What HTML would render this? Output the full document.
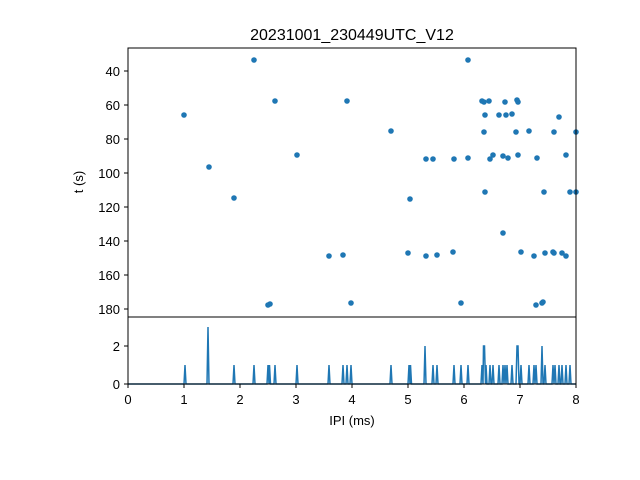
<!DOCTYPE html>
<html><head><style>body{margin:0;background:#fff}svg{display:block}</style></head><body>
<svg width="640" height="480" xmlns="http://www.w3.org/2000/svg" font-family="Liberation Sans, DejaVu Sans, sans-serif">
<rect width="640" height="480" fill="#fff"/>
<text x="352" y="40" font-size="16" text-anchor="middle">20231001_230449UTC_V12</text>
<g fill="#1f77b4" id="pts"></g>
<g fill="#1f77b4">
<circle cx="184" cy="115" r="2.8"/><circle cx="209" cy="167" r="2.8"/><circle cx="234" cy="198" r="2.8"/><circle cx="254" cy="60" r="2.8"/><circle cx="270" cy="304" r="2.8"/><circle cx="268" cy="305" r="2.8"/><circle cx="275" cy="101" r="2.8"/><circle cx="297" cy="155" r="2.8"/><circle cx="329" cy="256" r="2.8"/><circle cx="343" cy="255" r="2.8"/><circle cx="347" cy="101" r="2.8"/><circle cx="351" cy="303" r="2.8"/><circle cx="391" cy="131" r="2.8"/><circle cx="410" cy="199" r="2.8"/><circle cx="408" cy="253" r="2.8"/><circle cx="426" cy="159" r="2.8"/><circle cx="426" cy="256" r="2.8"/><circle cx="433" cy="159" r="2.8"/><circle cx="437" cy="255" r="2.8"/><circle cx="454" cy="159" r="2.8"/><circle cx="453" cy="252" r="2.8"/><circle cx="461" cy="303" r="2.8"/><circle cx="468" cy="158" r="2.8"/><circle cx="468" cy="60" r="2.8"/><circle cx="482" cy="101" r="2.8"/><circle cx="484" cy="102" r="2.8"/><circle cx="485" cy="115" r="2.8"/><circle cx="484" cy="132" r="2.8"/><circle cx="485" cy="192" r="2.8"/><circle cx="489" cy="101" r="2.8"/><circle cx="490" cy="159" r="2.8"/><circle cx="493" cy="155" r="2.8"/><circle cx="499" cy="115" r="2.8"/><circle cx="503" cy="156" r="2.8"/><circle cx="503" cy="233" r="2.8"/><circle cx="505" cy="102" r="2.8"/><circle cx="506" cy="115" r="2.8"/><circle cx="508" cy="158" r="2.8"/><circle cx="512" cy="114" r="2.8"/><circle cx="516" cy="132" r="2.8"/><circle cx="517" cy="100" r="2.8"/><circle cx="518" cy="102" r="2.8"/><circle cx="518" cy="155" r="2.8"/><circle cx="521" cy="252" r="2.8"/><circle cx="529" cy="131" r="2.8"/><circle cx="534" cy="256" r="2.8"/><circle cx="537" cy="158" r="2.8"/><circle cx="536" cy="305" r="2.8"/><circle cx="542" cy="303" r="2.8"/><circle cx="543" cy="302" r="2.8"/><circle cx="544" cy="192" r="2.8"/><circle cx="545" cy="253" r="2.8"/><circle cx="553" cy="252" r="2.8"/><circle cx="554" cy="253" r="2.8"/><circle cx="554" cy="132" r="2.8"/><circle cx="559" cy="117" r="2.8"/><circle cx="562" cy="253" r="2.8"/><circle cx="566" cy="155" r="2.8"/><circle cx="566" cy="256" r="2.8"/><circle cx="570" cy="192" r="2.8"/><circle cx="576" cy="132" r="2.8"/><circle cx="576" cy="192" r="2.8"/>
</g>
<path fill="none" stroke="#1f77b4" stroke-width="1.5" d="M128,384 L184,384 L185,365 L186,384 L207,384 L208,327 L209,384 L233,384 L234,365 L235,384 L253,384 L254,365 L255,384 L267,384 L268,365 L269,384 L269.5,365 L270.5,384 L274,384 L275,365 L276,384 L296,384 L297,365 L298,384 L328,384 L329,365 L330,384 L342,384 L343,365 L344,384 L346,384 L347,365 L348,384 L350,384 L351,365 L352,384 L390,384 L391,365 L392,384 L408,384 L409,365 L410,384 L410.5,365 L411.5,384 L424,384 L425,346 L426,384 L432,384 L433,365 L434,384 L436,384 L437,365 L438,384 L453,384 L454,365 L455,384 L460,384 L461,365 L462,384 L467,384 L468,365 L469,384 L481,384 L482,365 L483,384 L483.5,346 L484.5,346 L485.5,384 L486,365 L487,384 L489,384 L490,365 L491,384 L492,384 L493,365 L494,384 L498,384 L499,365 L500,384 L502,384 L503,365 L504,384 L505,365 L506,384 L507,365 L508,384 L511,384 L512,365 L513,384 L516,384 L517,346 L518,346 L519,384 L520,384 L521,365 L522,384 L528,384 L529,365 L530,384 L533,384 L534,365 L535,384 L536,365 L537,384 L541,384 L542,346 L543,384 L544,384 L545,365 L546,384 L552,384 L553,365 L554,384 L555,365 L556,384 L558,384 L559,365 L560,384 L561,384 L562,365 L563,384 L565,384 L566,365 L567,384 L569,384 L570,365 L571,384 L576,384"/>
<g fill="none" stroke="#000" stroke-width="1">
<rect x="128" y="48" width="448" height="269"/>
<rect x="128" y="317" width="448" height="67"/>
</g>
<g stroke="#000">
<line x1="124" x2="128" y1="71" y2="71"/><line x1="124" x2="128" y1="105" y2="105"/><line x1="124" x2="128" y1="139" y2="139"/><line x1="124" x2="128" y1="173" y2="173"/><line x1="124" x2="128" y1="207" y2="207"/><line x1="124" x2="128" y1="241" y2="241"/><line x1="124" x2="128" y1="275" y2="275"/><line x1="124" x2="128" y1="309" y2="309"/>
<line x1="124" x2="128" y1="346" y2="346"/><line x1="124" x2="128" y1="384" y2="384"/>
<line x1="128" x2="128" y1="384" y2="388"/><line x1="184" x2="184" y1="384" y2="388"/><line x1="240" x2="240" y1="384" y2="388"/><line x1="296" x2="296" y1="384" y2="388"/><line x1="352" x2="352" y1="384" y2="388"/><line x1="408" x2="408" y1="384" y2="388"/><line x1="464" x2="464" y1="384" y2="388"/><line x1="520" x2="520" y1="384" y2="388"/><line x1="576" x2="576" y1="384" y2="388"/>
</g>
<g font-size="13" text-anchor="end">
<text x="120" y="76">40</text><text x="120" y="110">60</text><text x="120" y="144">80</text><text x="120" y="178">100</text><text x="120" y="212">120</text><text x="120" y="246">140</text><text x="120" y="280">160</text><text x="120" y="314">180</text>
<text x="120" y="351">2</text><text x="120" y="389">0</text>
</g>
<g font-size="13" text-anchor="middle">
<text x="128" y="404">0</text><text x="184" y="404">1</text><text x="240" y="404">2</text><text x="296" y="404">3</text><text x="352" y="404">4</text><text x="408" y="404">5</text><text x="464" y="404">6</text><text x="520" y="404">7</text><text x="576" y="404">8</text>
<text x="352" y="425">IPI (ms)</text>
<text transform="translate(83,182) rotate(-90)">t (s)</text>
</g>
</svg>
</body></html>
